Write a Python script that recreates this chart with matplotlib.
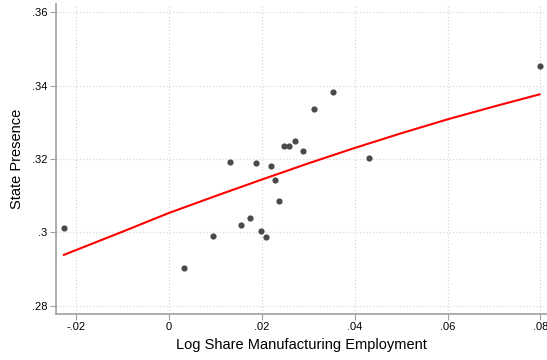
import matplotlib
matplotlib.use("Agg")
import matplotlib.pyplot as plt
from matplotlib.ticker import FixedLocator

plt.rcParams['font.family'] = ['Liberation Sans', 'DejaVu Sans']

# state-level observations
log_manuf_share = [-0.0226, 0.0032, 0.0095, 0.0131, 0.0156, 0.0174, 0.0187, 0.0199,
                   0.0209, 0.0219, 0.0229, 0.0238, 0.0247, 0.0258, 0.0271, 0.0289,
                   0.0312, 0.0353, 0.0431, 0.0798]
state_presence = [0.3011, 0.2902, 0.2989, 0.3193, 0.3019, 0.3039, 0.3190, 0.3005,
                  0.2988, 0.3182, 0.3144, 0.3085, 0.3235, 0.3235, 0.3250, 0.3221,
                  0.3337, 0.3382, 0.3202, 0.3454]

# fitted curve
fit_x = [-0.0226, -0.01, 0.0, 0.01, 0.02, 0.03, 0.04, 0.05, 0.06, 0.07, 0.0798]
fit_y = [0.2939, 0.3002, 0.3053, 0.3099, 0.3144, 0.3188, 0.3230, 0.3270, 0.3308, 0.3343, 0.3376]

x_ticks = [-0.02, 0, 0.02, 0.04, 0.06, 0.08]
x_labels = ['-.02', '0', '.02', '.04', '.06', '.08']
y_ticks = [0.28, 0.30, 0.32, 0.34, 0.36]
y_labels = ['.28', '.3', '.32', '.34', '.36']

fig = plt.figure(figsize=(5.47, 3.6), dpi=100)
ax = fig.add_axes([56 / 547, 46 / 360, 1 - 56 / 547, 310 / 360])

ax.scatter(log_manuf_share, state_presence, s=20, color='#4a4a4a', zorder=3, linewidths=0)
ax.plot(fit_x, fit_y, color='#ff0000', lw=1.5, zorder=4)

ax.set_xlim(-0.0243, 0.0814)
ax.set_ylim(0.2778, 0.3622)
ax.xaxis.set_major_locator(FixedLocator(x_ticks))
ax.yaxis.set_major_locator(FixedLocator(y_ticks))
ax.set_xticklabels(x_labels)
ax.set_yticklabels(y_labels)

ax.grid(True, color='#d4d4d4', linestyle=(0, (1, 2)), lw=0.8)
ax.set_axisbelow(True)
for s in ['top', 'right']:
    ax.spines[s].set_visible(False)
for s in ['left', 'bottom']:
    ax.spines[s].set_color('#a0a0a0')
    ax.spines[s].set_linewidth(1.2)
ax.tick_params(direction='out', length=4, color='#a0a0a0', labelsize=8, pad=2)

ax.set_xlabel('Log Share Manufacturing Employment', fontsize=10.5, labelpad=4)
ax.set_ylabel('State Presence', fontsize=10.5, labelpad=6)

fig.savefig('out.png', dpi=100)
